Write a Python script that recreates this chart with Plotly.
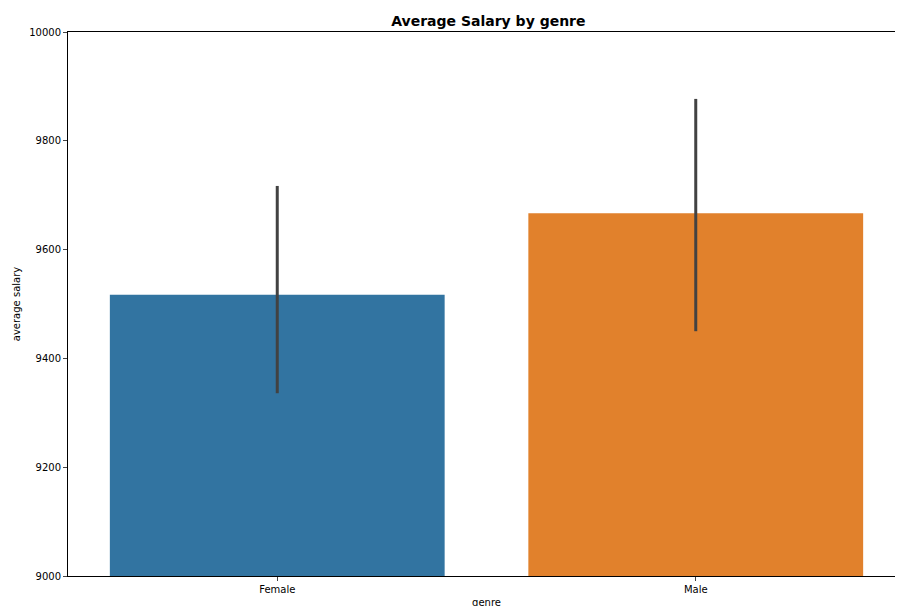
import plotly.graph_objects as go

genres = ['Female', 'Male']
avg_salary = [9517, 9667]
ci_low = [9336, 9450]
ci_high = [9717, 9877]
colors = ['#3274a1', '#e1812c']

fig = go.Figure()
fig.add_trace(go.Bar(
    x=genres, y=avg_salary, width=0.8,
    marker=dict(color=colors, line=dict(width=0)),
    error_y=dict(
        type='data', symmetric=False,
        array=[h - v for h, v in zip(ci_high, avg_salary)],
        arrayminus=[v - l for l, v in zip(ci_low, avg_salary)],
        color='#424242', thickness=3, width=0,
    ),
))
fig.update_layout(
    width=903, height=606,
    margin=dict(l=60, r=6, t=24, b=38, autoexpand=False),
    paper_bgcolor='white', plot_bgcolor='white',
    font=dict(family='DejaVu Sans', size=10, color='black'),
    title=dict(text='<b>Average Salary by genre</b>', x=0.532, xanchor='center',
               y=0.978, yanchor='middle', font=dict(size=14)),
    showlegend=False,
)
fig.update_xaxes(range=[-0.5, 1.5], automargin=False,
                 title=dict(text='genre', standoff=4, font=dict(size=10)),
                 showline=True, mirror=True, linecolor='black', linewidth=1,
                 ticks='outside', ticklen=4, showgrid=False)
fig.update_yaxes(range=[9000, 10000], dtick=200, tickformat='d', automargin=False,
                 title=dict(text='average salary', standoff=6, font=dict(size=10)),
                 showline=True, mirror=True, linecolor='black', linewidth=1,
                 ticks='outside', ticklen=4, showgrid=False, zeroline=False)
fig.write_html('out.html')
